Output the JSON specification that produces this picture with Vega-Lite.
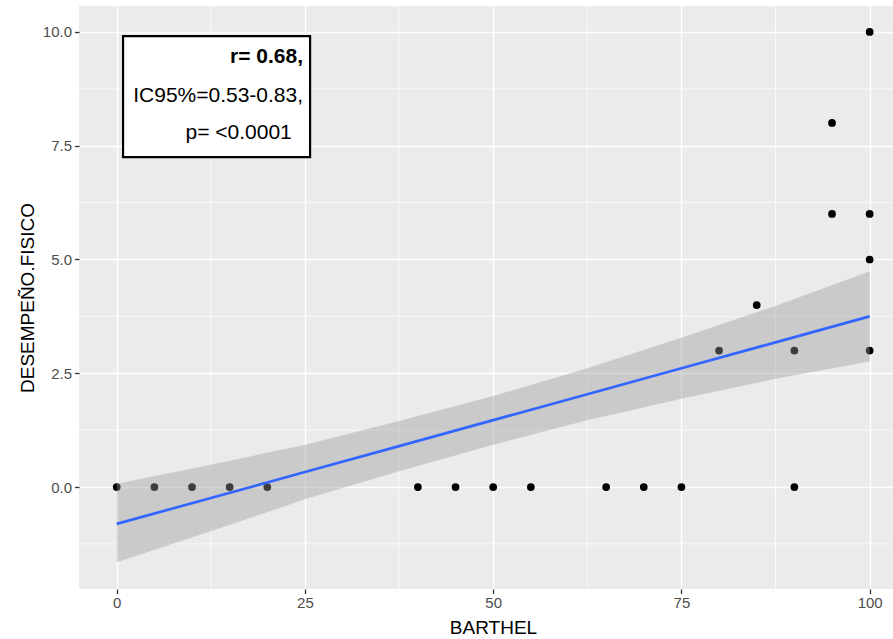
{
  "$schema": "https://vega.github.io/schema/vega-lite/v6.json",
  "width": 814,
  "height": 583,
  "autosize": {"type": "none"},
  "padding": {"left": 79, "top": 6, "right": 0, "bottom": 50},
  "background": "white",
  "config": {
    "view": {"fill": "#EBEBEB", "stroke": null},
    "font": "Liberation Sans",
    "axis": {
      "grid": true,
      "gridColor": "#FFFFFF",
      "gridWidth": 1.4,
      "domain": false,
      "tickColor": "#333333",
      "tickSize": 4.5,
      "tickWidth": 1.3,
      "labelColor": "#4D4D4D",
      "labelFont": "Liberation Sans",
      "labelFontSize": 15,
      "titleFont": "Liberation Sans",
      "titleFontSize": 19,
      "titleFontWeight": "normal",
      "titleColor": "#000000"
    }
  },
  "datasets": {
    "obs": [
      {"barthel": 0, "desempeno": 0},
      {"barthel": 5, "desempeno": 0},
      {"barthel": 10, "desempeno": 0},
      {"barthel": 15, "desempeno": 0},
      {"barthel": 20, "desempeno": 0},
      {"barthel": 40, "desempeno": 0},
      {"barthel": 45, "desempeno": 0},
      {"barthel": 50, "desempeno": 0},
      {"barthel": 55, "desempeno": 0},
      {"barthel": 65, "desempeno": 0},
      {"barthel": 70, "desempeno": 0},
      {"barthel": 75, "desempeno": 0},
      {"barthel": 80, "desempeno": 3},
      {"barthel": 85, "desempeno": 4},
      {"barthel": 90, "desempeno": 3},
      {"barthel": 90, "desempeno": 0},
      {"barthel": 95, "desempeno": 8},
      {"barthel": 95, "desempeno": 6},
      {"barthel": 100, "desempeno": 10},
      {"barthel": 100, "desempeno": 6},
      {"barthel": 100, "desempeno": 5},
      {"barthel": 100, "desempeno": 3}
    ],
    "fit": [
      {"barthel": 0, "fit": -0.81, "lo": -1.65, "hi": 0.07},
      {"barthel": 12.5, "fit": -0.24, "lo": -0.97, "hi": 0.49},
      {"barthel": 25, "fit": 0.33, "lo": -0.27, "hi": 0.93},
      {"barthel": 37.5, "fit": 0.9, "lo": 0.35, "hi": 1.45},
      {"barthel": 50, "fit": 1.47, "lo": 0.93, "hi": 2.0},
      {"barthel": 62.5, "fit": 2.04, "lo": 1.47, "hi": 2.61},
      {"barthel": 75, "fit": 2.61, "lo": 1.94, "hi": 3.28},
      {"barthel": 87.5, "fit": 3.18, "lo": 2.38, "hi": 3.98},
      {"barthel": 100, "fit": 3.75, "lo": 2.76, "hi": 4.74}
    ],
    "one": [{}]
  },
  "layer": [
    {
      "data": {"values": [{"barthel": 12.5}, {"barthel": 37.5}, {"barthel": 62.5}, {"barthel": 87.5}]},
      "mark": {"type": "rule", "color": "#FFFFFF", "strokeWidth": 0.7},
      "encoding": {
        "x": {"field": "barthel", "type": "quantitative", "scale": {"domain": [-5.01, 103.1], "nice": false, "zero": false}}
      }
    },
    {
      "data": {"values": [{"desempeno": -1.25}, {"desempeno": 1.25}, {"desempeno": 3.75}, {"desempeno": 6.25}, {"desempeno": 8.75}]},
      "mark": {"type": "rule", "color": "#FFFFFF", "strokeWidth": 0.7},
      "encoding": {
        "y": {"field": "desempeno", "type": "quantitative", "scale": {"domain": [-2.24, 10.57], "nice": false, "zero": false}}
      }
    },
    {
      "data": {"name": "obs"},
      "mark": {"type": "point", "filled": true, "color": "#000000", "opacity": 1, "size": 60},
      "encoding": {
        "x": {
          "field": "barthel", "type": "quantitative",
          "scale": {"domain": [-5.01, 103.1], "nice": false, "zero": false},
          "axis": {"title": "BARTHEL", "values": [0, 25, 50, 75, 100], "labelPadding": 2, "titleX": 414, "titleY": 44, "titleBaseline": "alphabetic"}
        },
        "y": {
          "field": "desempeno", "type": "quantitative",
          "scale": {"domain": [-2.24, 10.57], "nice": false, "zero": false},
          "axis": {"title": "DESEMPEÑO.FISICO", "values": [0, 2.5, 5, 7.5, 10], "format": ".1f", "labelPadding": 3, "titleX": -46, "titleY": 291.5, "titleBaseline": "alphabetic", "titleAngle": -90}
        }
      }
    },
    {
      "data": {"name": "fit"},
      "mark": {"type": "area", "color": "#999999", "opacity": 0.4},
      "encoding": {
        "x": {"field": "barthel", "type": "quantitative", "scale": {"domain": [-5.01, 103.1], "nice": false, "zero": false}},
        "y": {"field": "lo", "type": "quantitative", "scale": {"domain": [-2.24, 10.57], "nice": false, "zero": false}},
        "y2": {"field": "hi"}
      }
    },
    {
      "data": {"name": "fit"},
      "mark": {"type": "line", "color": "#3366FF", "strokeWidth": 2.7},
      "encoding": {
        "x": {"field": "barthel", "type": "quantitative", "scale": {"domain": [-5.01, 103.1], "nice": false, "zero": false}},
        "y": {"field": "fit", "type": "quantitative", "scale": {"domain": [-2.24, 10.57], "nice": false, "zero": false}}
      }
    },
    {
      "data": {"name": "one"},
      "mark": {"type": "rect", "color": "#000000", "xOffset": 1.5, "yOffset": 1.5},
      "encoding": {
        "x": {"datum": 0.84, "type": "quantitative"},
        "x2": {"datum": 25.68},
        "y": {"datum": 9.91, "type": "quantitative"},
        "y2": {"datum": 7.25}
      }
    },
    {
      "data": {"name": "one"},
      "mark": {"type": "rect", "fill": "#FFFFFF", "stroke": "#000000", "strokeWidth": 2.2},
      "encoding": {
        "x": {"datum": 0.84, "type": "quantitative"},
        "x2": {"datum": 25.68},
        "y": {"datum": 9.91, "type": "quantitative"},
        "y2": {"datum": 7.25}
      }
    },
    {
      "data": {"name": "one"},
      "mark": {"type": "text", "text": "r= 0.68,", "font": "Liberation Sans", "fontSize": 21, "fontWeight": "bold", "align": "right", "baseline": "alphabetic", "color": "#000000"},
      "encoding": {
        "x": {"datum": 24.75, "type": "quantitative"},
        "y": {"datum": 9.32, "type": "quantitative"}
      }
    },
    {
      "data": {"name": "one"},
      "mark": {"type": "text", "text": "IC95%=0.53-0.83,", "font": "Liberation Sans", "fontSize": 21, "align": "right", "baseline": "alphabetic", "color": "#000000"},
      "encoding": {
        "x": {"datum": 24.75, "type": "quantitative"},
        "y": {"datum": 8.47, "type": "quantitative"}
      }
    },
    {
      "data": {"name": "one"},
      "mark": {"type": "text", "text": "p= <0.0001", "font": "Liberation Sans", "fontSize": 21, "align": "right", "baseline": "alphabetic", "color": "#000000"},
      "encoding": {
        "x": {"datum": 23.25, "type": "quantitative"},
        "y": {"datum": 7.65, "type": "quantitative"}
      }
    }
  ]
}
